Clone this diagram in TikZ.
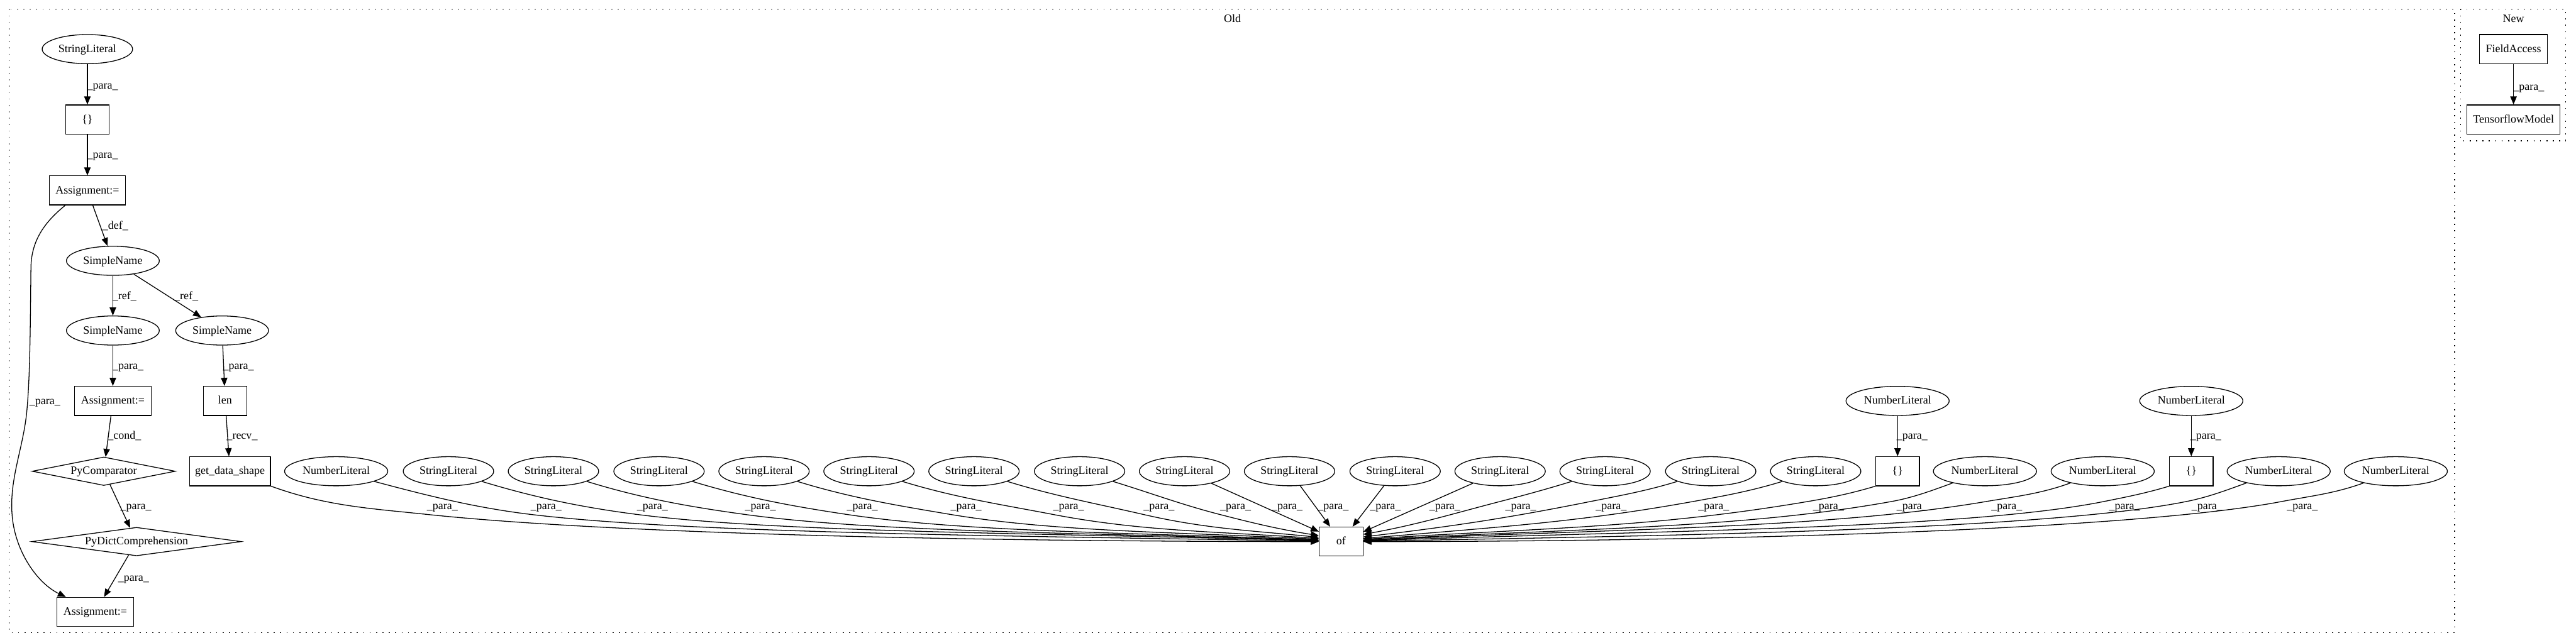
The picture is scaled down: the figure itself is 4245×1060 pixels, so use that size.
\documentclass[tikz,border=0pt]{standalone}
\usepackage{fontspec}
\setmainfont{Liberation Serif}
\usetikzlibrary{shapes.geometric,arrows.meta}
\tikzset{
  gfont/.style={font=\fontsize{14pt}{16pt}\selectfont, text height=10.5pt, text depth=2.5pt},
  base/.style={gfont, draw, line width=1pt, inner sep=0pt},
  box/.style={base, rectangle, minimum height=36pt},
  ell/.style={base, ellipse, minimum height=36pt},
  dia/.style={base, diamond, minimum height=35.25pt},
  lbl/.style={gfont, inner sep=0pt},
  edge/.style={line width=1pt, -{Triangle[length=10pt,width=8pt]}},
  clus/.style={line width=1pt, dash pattern=on 1.3pt off 6.6pt},
  slit/.style={ell, minimum width=111.75pt},
  nlit/.style={ell, minimum width=127.5pt},
  sname/.style={ell, minimum width=114.75pt},
  sbox/.style={box, minimum width=54pt},
  abox/.style={box, minimum width=94.5pt}
}
\begin{document}
\begin{tikzpicture}[x=0.75pt, y=-0.75pt]
\useasboundingbox (0,0) rectangle (4245,1060);

% clusters
\draw[clus] (15,15) rectangle (4045,1043);
\node[lbl] (oldlbl) at (2031,31) {Old};
\draw[clus] (4055,15) rectangle (4228,232);
\node[lbl] (newlbl) at (4142,31) {New};

% left column
\node[slit] (sl0) at (144,81) {StringLiteral};
\node[sbox] (br0) at (144,197) {\{\}};
\node[abox] (asg1) at (144,314) {Assignment:=};
\node[sname] (sn1) at (186,430) {SimpleName};
\node[sname] (sn2) at (186,545) {SimpleName};
\node[sname] (sn3) at (366,545) {SimpleName};
\node[abox] (asg2) at (186,661) {Assignment:=};
\node[sbox] (len) at (371,661) {len};
\node[dia, minimum width=177pt, aspect=5] (pcmp) at (171,777) {PyComparator};
\node[box, minimum width=99.75pt] (gds) at (379,777) {get\_data\_shape};
\node[dia, minimum width=258.75pt, aspect=7] (pdict) at (225,893) {PyDictComprehension};
\node[abox] (asg3) at (157,1009) {Assignment:=};

% row
\node[nlit] (nl1) at (554,777) {NumberLiteral};
\node[slit] (sl1) at (739,777) {StringLiteral};
\node[slit] (sl2) at (912,777) {StringLiteral};
\node[slit] (sl3) at (1086,777) {StringLiteral};
\node[slit] (sl4) at (1259,777) {StringLiteral};
\node[slit] (sl5) at (1432,777) {StringLiteral};
\node[slit] (sl6) at (1605,777) {StringLiteral};
\node[slit] (sl7) at (1779,777) {StringLiteral};
\node[slit] (sl8) at (1952,777) {StringLiteral};
\node[slit] (sl9) at (2125,777) {StringLiteral};
\node[slit] (sl10) at (2299,777) {StringLiteral};
\node[slit] (sl11) at (2472,777) {StringLiteral};
\node[slit] (sl12) at (2645,777) {StringLiteral};
\node[slit] (sl13) at (2819,777) {StringLiteral};
\node[slit] (sl14) at (2992,777) {StringLiteral};
\node[sbox] (br1) at (3127,777) {\{\}};
\node[nlit] (nl2) at (3271,777) {NumberLiteral};
\node[nlit] (nl3) at (3465,777) {NumberLiteral};
\node[sbox] (br2) at (3611,777) {\{\}};
\node[nlit] (nl4) at (3755,777) {NumberLiteral};
\node[nlit] (nl5) at (3948,777) {NumberLiteral};
\node[nlit] (nlt1) at (3127,661) {NumberLiteral};
\node[nlit] (nlt2) at (3611,661) {NumberLiteral};
\node[sbox] (of) at (2210,893) {of};

% new cluster
\node[box, minimum width=84pt] (fa) at (4142,81) {FieldAccess};
\node[box, minimum width=114.75pt] (tf) at (4142,197) {TensorflowModel};

% edges, left column
\draw[edge] (sl0) -- (br0) node[lbl] (e1) at (169,141) {\_para\_};
\draw[edge] (br0) -- (asg1) node[lbl] (e2) at (169,255) {\_para\_};
\draw[edge] (asg1) -- (sn1) node[lbl] (e3) at (190,372) {\_def\_};
\draw[edge] (sn1) -- (sn2) node[lbl] (e4) at (205,488) {\_ref\_};
\draw[edge] (sn1) -- (sn3) node[lbl] (e5) at (307,488) {\_ref\_};
\draw[edge] (sn2) -- (asg2) node[lbl] (e6) at (211,604) {\_para\_};
\draw[edge] (sn3) -- (len) node[lbl] (e7) at (393,604) {\_para\_};
\draw[edge] (asg2) -- (pcmp) node[lbl] (e8) at (205,719) {\_cond\_};
\draw[edge] (len) -- (gds) node[lbl] (e9) at (399,719) {\_recv\_};
\draw[edge] (pcmp) -- (pdict) node[lbl] (e10) at (224,835) {\_para\_};
\draw[edge] (pdict) -- (asg3) node[lbl] (e11) at (220,953) {\_para\_};
\draw[edge] (asg1.-146) .. controls (75,365) and (52,395) .. (51,440)
  .. controls (50,520) and (50,620) .. (44,680)
  .. controls (38,740) and (15,790) .. (20,850)
  .. controls (25,910) and (62,962) .. (asg3.153)
  node[lbl] (e12) at (74,662) {\_para\_};

% edges into of, left fan
\draw[edge] (gds.-20) .. controls +(90,33) and +(-90,-9.5) .. (702,848)
  .. controls +(297,31.5) and +(-589,0) .. (of.180) node[lbl] (f1) at (729,835) {\_para\_};
\draw[edge] (nl1.-15) .. controls +(90,24) and +(-90,-11) .. (873,848)
  .. controls +(255,31) and +(-520,-9) .. (of.179) node[lbl] (f2) at (900,835) {\_para\_};
\draw[edge] (sl1.-17) .. controls +(89,27) and +(-89,-11.6) .. (1048,848)
  .. controls +(235,30.6) and +(-450,-13) .. (of.178) node[lbl] (f3) at (1075,835) {\_para\_};
\draw[edge] (sl2.-17) .. controls +(91,28) and +(-91,-12.6) .. (1226,848)
  .. controls +(217,30.2) and +(-379,-13) .. (of.177) node[lbl] (f4) at (1253,835) {\_para\_};
\draw[edge] (sl3.-17) .. controls +(89,27) and +(-89,-13.4) .. (1394,848)
  .. controls +(197,29.8) and +(-312,-12.8) .. (of.176) node[lbl] (f5) at (1421,835) {\_para\_};
\draw[edge] (sl4.-17) .. controls +(88,27) and +(-88,-14.8) .. (1565,848)
  .. controls +(172,28.8) and +(-244,-12.4) .. (of.174) node[lbl] (f6) at (1592,835) {\_para\_};
\draw[edge] (sl5.-17) .. controls +(87,26.6) and +(-87,-16.7) .. (1734,848)
  .. controls +(145,27.9) and +(-176,-12) .. (of.172) node[lbl] (f7) at (1761,835) {\_para\_};
\draw[edge] (sl6.-17) .. controls +(78,24) and +(-78,-18) .. (1883,848)
  .. controls +(102,23.6) and +(-116,-11.4) .. (of.169) node[lbl] (f8) at (1910,835) {\_para\_};
\draw[edge] (sl7.-17) .. controls +(62,19) and +(-62,-16) .. (2009,848)
  .. controls +(58,15) and +(-66,-10.6) .. (of.165) node[lbl] (f9) at (2036,835) {\_para\_};
\draw[edge] (sl8) -- (of) node[lbl] (f10) at (2121,835) {\_para\_};
\draw[edge] (sl9) -- (of) node[lbl] (f11) at (2197,835) {\_para\_};

% right fan
\draw[edge] (sl10) -- (of) node[lbl] (f12) at (2283,835) {\_para\_};
\draw[edge] (sl11) -- (of) node[lbl] (f13) at (2381,835) {\_para\_};
\draw[edge] (sl12.-163) .. controls +(-42,12.8) and +(42,-10.9) .. (2471.5,827)
  .. controls +(-79,20.5) and +(90,-16.3) .. (of.18) node[lbl] (f14) at (2506,835) {\_para\_};
\draw[edge] (sl13.-163) .. controls +(-50.6,15.5) and +(50.6,-10.1) .. (2620.5,827)
  .. controls +(-131,26.2) and +(150,-17.5) .. (of.12) node[lbl] (f15) at (2655,835) {\_para\_};
\draw[edge] (sl14.-163) .. controls +(-52,15.9) and +(52,-9.4) .. (2789.5,827)
  .. controls +(-190,34.2) and +(217,-18.3) .. (of.8) node[lbl] (f16) at (2824,835) {\_para\_};
\draw[edge] (br1.south west) .. controls +(-39.4,11.8) and +(39.4,-6.7) .. (2978.5,827)
  .. controls +(-256,43.5) and +(293,-18.7) .. (of.6) node[lbl] (f17) at (3013,835) {\_para\_};
\draw[edge] (nl2.-160) .. controls +(-35.9,13.1) and +(35.9,-6.5) .. (3116.5,827)
  .. controls +(-247,44.5) and +(348,-19) .. (of.4) node[lbl] (f18) at (3151,835) {\_para\_};
\draw[edge] (nl3.-160) .. controls +(-49.2,17.9) and +(49.2,-8.4) .. (3272.5,827)
  .. controls +(-264,44.9) and +(411,-19.2) .. (of.3) node[lbl] (f19) at (3307,835) {\_para\_};
\draw[edge] (br2.south west) .. controls +(-38,11.4) and +(38,-7.6) .. (3466.5,827)
  .. controls +(-226,45.3) and +(488,-17) .. (of.2) node[lbl] (f20) at (3501,835) {\_para\_};
\draw[edge] (nl4.-160) .. controls +(-35.2,12.8) and +(35.2,-7) .. (3602.5,827)
  .. controls +(-229,45.8) and +(543,-9.5) .. (of.1) node[lbl] (f21) at (3637,835) {\_para\_};
\draw[edge] (nl5.-160) .. controls +(-47.8,17.4) and +(47.8,-9.1) .. (3759.5,827)
  .. controls +(-243,46.2) and +(605,0) .. (of.0) node[lbl] (f22) at (3794,835) {\_para\_};

% top literal into {}
\draw[edge] (nlt1) -- (br1) node[lbl] (g1) at (3151,719) {\_para\_};
\draw[edge] (nlt2) -- (br2) node[lbl] (g2) at (3635,719) {\_para\_};

% new cluster edge
\draw[edge] (fa) -- (tf) node[lbl] (h1) at (4167,143) {\_para\_};
\end{tikzpicture}
\end{document}
